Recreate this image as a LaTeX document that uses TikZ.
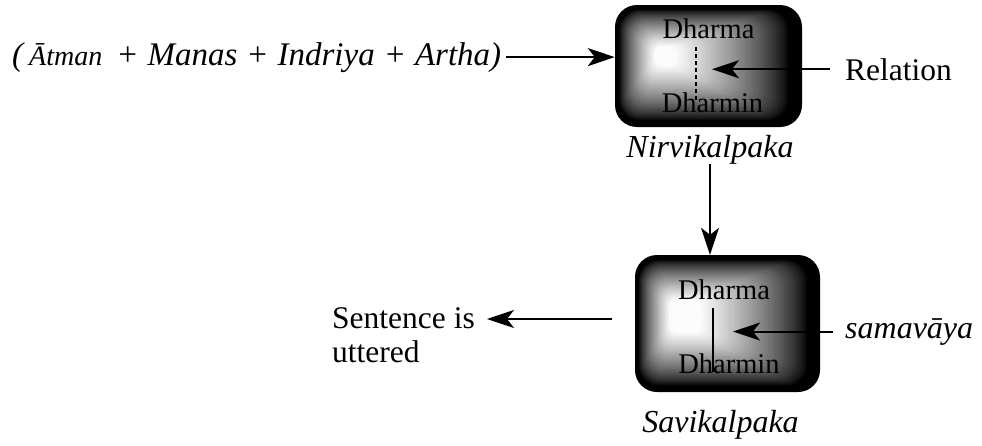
\documentclass[tikz,border=0pt]{standalone}
\usepackage{fontspec}
\setmainfont{Liberation Serif}
\usetikzlibrary{arrows.meta,calc}

% shaded rounded box: x1 y1 x2 y2 (outer), insets of the white core: L T R B
\newcommand\shadebox[8]{%
  \foreach \i in {0,...,64}{%
    \pgfmathsetmacro\t{\i/64}%
    \pgfmathsetmacro\u{max(0.0001,(\t-0.1)/0.9)}%
    \pgfmathsetmacro\w{min(99,round(100*(\u)^0.75))}%
    \pgfmathsetmacro\r{22-15*\t}%
    \fill[white!\w!black, rounded corners=\r pt]
      ({#1+#5*\t},{#2+#6*\t}) rectangle ({#3-#7*\t},{#4-#8*\t});
  }}

\tikzset{
  intxt/.style={inner sep=0pt, font=\fontsize{28.5}{34}\selectfont},
  txt/.style={inner sep=0pt, font=\fontsize{31.5}{34}\selectfont},
  itx/.style={inner sep=0pt, font=\fontsize{32}{35}\selectfont\itshape},
  boxnode/.style={inner sep=0pt, draw=none},
  arr/.style={line width=2pt, -{Stealth[length=27pt,width=18pt,inset=7pt]}},
  dashline/.style={line width=1.6pt, dash pattern=on 4pt off 3pt},
  thinline/.style={line width=1.2pt}
}

\begin{document}
\begin{tikzpicture}[x=1pt,y=-1pt]
\useasboundingbox (0,0) rectangle (982,445);
\fill[white] (0,0) rectangle (982,445);

% boxes
\shadebox{615}{5}{802}{127}{40}{42}{127}{62}
\shadebox{635}{255}{820}{392}{35}{45}{120}{60}
\node[boxnode, minimum width=187pt, minimum height=122pt] (b1) at (708.5,66) {};
\node[boxnode, minimum width=185pt, minimum height=137pt] (b2) at (727.5,323.5) {};

% top box contents
\node[intxt, anchor=base] (dh1) at (708.5,38) {Dharma};
\node[intxt, anchor=base] (dn1) at (712.5,112) {Dharmin};
\coordinate (da) at (696,47);
\coordinate (db) at (696,103);
\draw[dashline] (da) -- (db);
\coordinate (rtip) at (712,68);

% bottom box contents
\node[intxt, anchor=base] (dh2) at (724,299) {Dharma};
\node[intxt, anchor=base] (dn2) at (729,373) {Dharmin};
\coordinate (sa) at (713,308);
\coordinate (sb) at (713,372);
\draw[thinline] (sa) -- (sb);
\coordinate (stip) at (733,333);

% labels
\node[inner sep=0pt, font=\fontsize{33}{36}\selectfont\itshape, anchor=base west] (atx) at (12,65)
  {(\hspace{6pt}{\fontsize{28}{30}\selectfont Ātman}\hspace{14pt}+\hspace{9pt}Manas\hspace{9pt}+\hspace{9pt}Indriya\hspace{9pt}+\hspace{9pt}Artha)};
\node[txt, anchor=base west] (rel) at (845,80) {Relation};
\node[itx, anchor=base] (nir) at (710,157) {Nirvikalpaka};
\node[itx, anchor=base west] (sam) at (845,338) {samavāya};
\node[txt, anchor=base west, align=left] (sen) at (332,362) {Sentence is\\uttered};
\node[itx, anchor=base] (sav) at (720.5,432) {Savikalpaka};
\coordinate (sstart) at (612,319);

% connectors
\draw[arr] ([xshift=5pt]atx.east) -- (atx.east -| b1.west);
\draw[arr] ([xshift=-15pt]rel.west) -- (rel.west -| rtip);
\draw[arr] (nir.south) -- (nir.south |- b2.north);
\draw[arr] ([xshift=-12pt]sam.west) -- (sam.west -| stip);
\draw[arr] (sstart) -- ([xshift=12pt]sstart -| sen.east);
\end{tikzpicture}
\end{document}
